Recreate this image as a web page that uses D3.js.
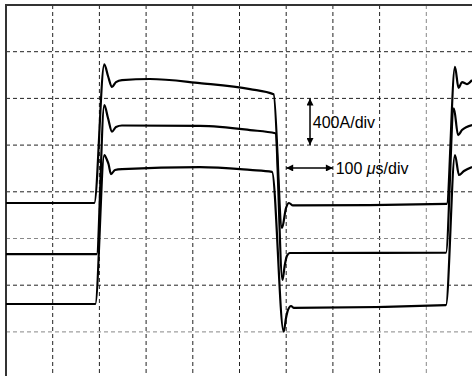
<!DOCTYPE html>
<html>
<head>
<meta charset="utf-8">
<script src="https://cdn.jsdelivr.net/npm/d3@7"></script>
<style>
  body { margin: 0; background: #fff; }
  svg { display: block; }
</style>
</head>
<body>
<div id="scope"></div>
<script>
var w = 472;
var h = 376;

// time in microseconds (100 us/div), current in A (400 A/div)
var timeTicks = [0, 100, 200, 300, 400, 500, 600, 700, 800, 900];
var currentTicks = [1200, 800, 400, 0, -400, -800, -1200];

// top trace
var t1 = [0, 189, 210.5, 218.4, 227, 235.5, 248.4, 308, 415, 522.5, 573, 591, 599.6, 606, 614.5, 943.7, 961.4, 969, 976.4, 987, 998];
var i1 = [-96, -96, 1092, 992, 898, 940, 957, 966, 931, 880, 835, -310, -139, -96, -117, -104, 1071, 889, 940, 923, 958];

// middle trace
var t2 = [0, 194.2, 210.5, 218.4, 227, 235.5, 248.4, 415.4, 522.5, 576.7, 592, 597, 601.5, 608, 616.7, 942, 959, 968, 976.4, 998];
var i2 = [-533, -533, 743, 632, 515, 555, 568, 564, 529, 501, -755, -627, -550, -524, -524, -522, 715, 486, 529, 572];

// bottom trace
var t3 = [0, 191.2, 210.5, 216.3, 219.5, 224.8, 233.4, 248.4, 415.4, 522.5, 569.6, 594.6, 599.6, 603.9, 610.3, 616.7, 942, 961.4, 970, 980.7, 998];
var i3 = [-961, -961, 315, 272, 238, 152, 187, 195, 212, 187, 170, -1198, -1081, -1012, -978, -995, -970, 315, 144, 178, 212];

var xScale = d3.scaleLinear()
    .domain([0, 1000])
    .range([6, 473]);

var yScale = d3.scaleLinear()
    .domain([-1600, 1600])
    .range([378.6, 5]);

var svg = d3.select("#scope")
    .append("svg")
    .attr("width", w)
    .attr("height", h);

var defs = svg.append("defs");
defs.append("marker")
    .attr("id", "head")
    .attr("viewBox", "0 0 10 10")
    .attr("refX", 10)
    .attr("refY", 5)
    .attr("markerWidth", 9)
    .attr("markerHeight", 7)
    .attr("markerUnits", "userSpaceOnUse")
    .attr("orient", "auto-start-reverse")
    .append("path")
    .attr("d", "M0,0L10,5L0,10Z")
    .attr("fill", "#000");

//Grid
var greyT = [900];
var greyI = [-400, -1200];

svg.selectAll("line.vgrid")
    .data(timeTicks.slice(1))
    .enter()
    .append("line")
    .attr("class", "vgrid")
    .attr("x1", function(d) { return xScale(d); })
    .attr("x2", function(d) { return xScale(d); })
    .attr("y1", yScale(1600))
    .attr("y2", h)
    .attr("stroke", function(d) { return greyT.indexOf(d) >= 0 ? "#888" : "#222"; })
    .attr("stroke-width", 1)
    .attr("stroke-dasharray", "4,3");

svg.selectAll("line.hgrid")
    .data(currentTicks)
    .enter()
    .append("line")
    .attr("class", "hgrid")
    .attr("x1", xScale(0))
    .attr("x2", w)
    .attr("y1", function(d) { return yScale(d); })
    .attr("y2", function(d) { return yScale(d); })
    .attr("stroke", function(d) { return greyI.indexOf(d) >= 0 ? "#888" : "#222"; })
    .attr("stroke-width", 1)
    .attr("stroke-dasharray", "4,3");

//Frame (top + left visible)
svg.append("path")
    .attr("d", "M" + w + "," + yScale(1600) + "H" + xScale(0) + "V" + h)
    .attr("fill", "none")
    .attr("stroke", "#333")
    .attr("stroke-width", 2);

//Traces
var traces = [
    t1.map(function(t, k) { return [t, i1[k]]; }),
    t2.map(function(t, k) { return [t, i2[k]]; }),
    t3.map(function(t, k) { return [t, i3[k]]; })
];

var line = d3.line()
    .x(function(d) { return xScale(d[0]); })
    .y(function(d) { return yScale(d[1]); })
    .curve(d3.curveMonotoneX);

svg.selectAll("path.trace")
    .data(traces)
    .enter()
    .append("path")
    .attr("class", "trace")
    .attr("d", line)
    .attr("fill", "none")
    .attr("stroke", "#000")
    .attr("stroke-width", 2.2)
    .attr("stroke-linejoin", "round");

//Scale annotations
svg.append("line")
    .attr("x1", xScale(651))
    .attr("x2", xScale(651))
    .attr("y1", yScale(800))
    .attr("y2", yScale(400))
    .attr("stroke", "#000")
    .attr("stroke-width", 1.5)
    .attr("marker-start", "url(#head)")
    .attr("marker-end", "url(#head)");

svg.append("text")
    .attr("x", xScale(657))
    .attr("y", yScale(600) + 6)
    .attr("font-family", "'Liberation Sans', Arial, sans-serif")
    .attr("font-size", "16px")
    .text("400A/div");

svg.append("line")
    .attr("x1", xScale(600))
    .attr("x2", xScale(700))
    .attr("y1", yScale(204))
    .attr("y2", yScale(204))
    .attr("stroke", "#000")
    .attr("stroke-width", 1.5)
    .attr("marker-start", "url(#head)")
    .attr("marker-end", "url(#head)");

var lbl = svg.append("text")
    .attr("x", xScale(706))
    .attr("y", yScale(204) + 6)
    .attr("font-family", "'Liberation Sans', Arial, sans-serif")
    .attr("font-size", "16px");
lbl.append("tspan").text("100 ");
lbl.append("tspan").attr("font-style", "italic").text("\u03bc");
lbl.append("tspan").text("s/div");
</script>
</body>
</html>
